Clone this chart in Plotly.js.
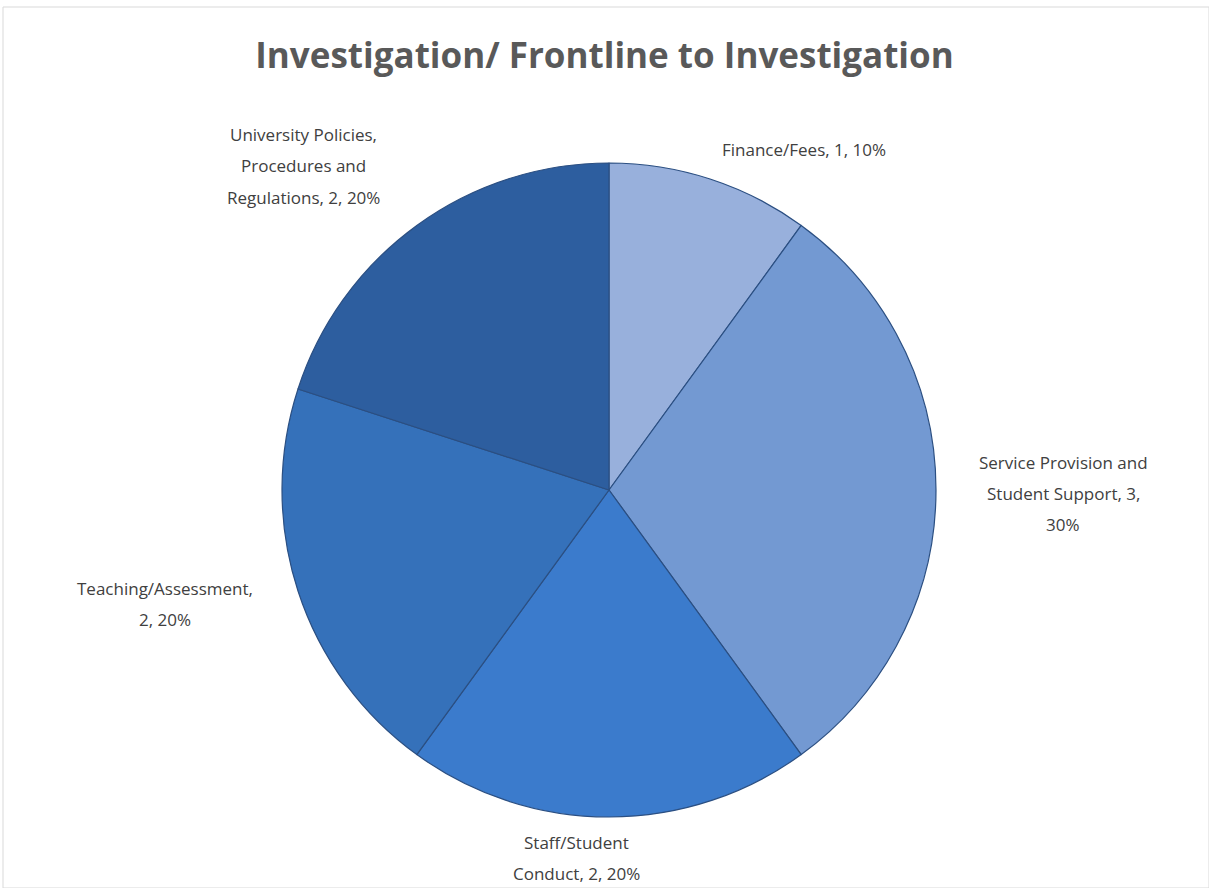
<!DOCTYPE html>
<html>
<head>
<meta charset="utf-8">
<script src="https://cdn.plot.ly/plotly-3.0.1.min.js"></script>
<style>html,body{margin:0;padding:0;background:#fff;}#chart{width:1209px;height:888px;}</style>
</head>
<body>
<div id="chart"></div>
<script>
const categories = ["Finance/Fees", "Service Provision and Student Support", "Staff/Student Conduct", "Teaching/Assessment", "University Policies, Procedures and Regulations"];
const counts = [1, 3, 2, 2, 2];
const sliceColors = ["#98b0dc", "#7399d2", "#3b7bcc", "#3571ba", "#2d5e9f"];

// label layout (pixel centers of first line, wrap widths in characters)
const labelX = [804, 1063, 576, 165, 303];
const labelY = [150, 462, 842, 588, 135];
const wrapChars = [30, 21, 15, 20, 20];
const lineGap = 31;

const W = 1209, H = 888;
const total = counts.reduce((a, b) => a + b, 0);

function wrap(text, maxc) {
  const words = text.split(" ");
  const lines = [];
  let cur = "";
  words.forEach(w => {
    if (cur === "") cur = w;
    else if ((cur + " " + w).length <= maxc) cur += " " + w;
    else { lines.push(cur); cur = w; }
  });
  if (cur) lines.push(cur);
  return lines;
}

const annotations = [];
categories.forEach((c, i) => {
  const pct = Math.round(counts[i] / total * 100);
  const lines = wrap(c + ", " + counts[i] + ", " + pct + "%", wrapChars[i]);
  lines.forEach((ln, k) => {
    annotations.push({
      text: ln, showarrow: false, xref: "paper", yref: "paper",
      x: labelX[i] / W, y: 1 - (labelY[i] + k * lineGap) / H,
      xanchor: "center", yanchor: "middle",
      font: {family: "Open Sans, sans-serif", size: 17, color: "#404040"}
    });
  });
});

const cx = 609, cy = 490, r = 327;
const trace = {
  type: "pie",
  labels: categories,
  values: counts,
  sort: false,
  direction: "clockwise",
  rotation: 0,
  textinfo: "none",
  hoverinfo: "label+value+percent",
  marker: {colors: sliceColors, line: {color: "#2b4f82", width: 1.2}},
  domain: {x: [(cx - r) / W, (cx + r) / W], y: [1 - (cy + r) / H, 1 - (cy - r) / H]},
  showlegend: false
};

const layout = {
  width: W, height: H,
  margin: {l: 0, r: 0, t: 0, b: 0},
  paper_bgcolor: "#ffffff",
  title: {
    text: "<b>Investigation/ Frontline to Investigation</b>",
    x: 0.5, xanchor: "center", y: 1 - 56 / H, yanchor: "middle",
    font: {family: "Open Sans, sans-serif", size: 35, color: "#595959"}
  },
  annotations: annotations,
  shapes: [{type: "rect", xref: "paper", yref: "paper", x0: 3 / W, x1: 1, y0: 0, y1: 1 - 7 / H,
    line: {color: "#d9d9d9", width: 1}}]
};

Plotly.newPlot("chart", [trace], layout, {displayModeBar: false, staticPlot: true});
</script>
</body>
</html>
